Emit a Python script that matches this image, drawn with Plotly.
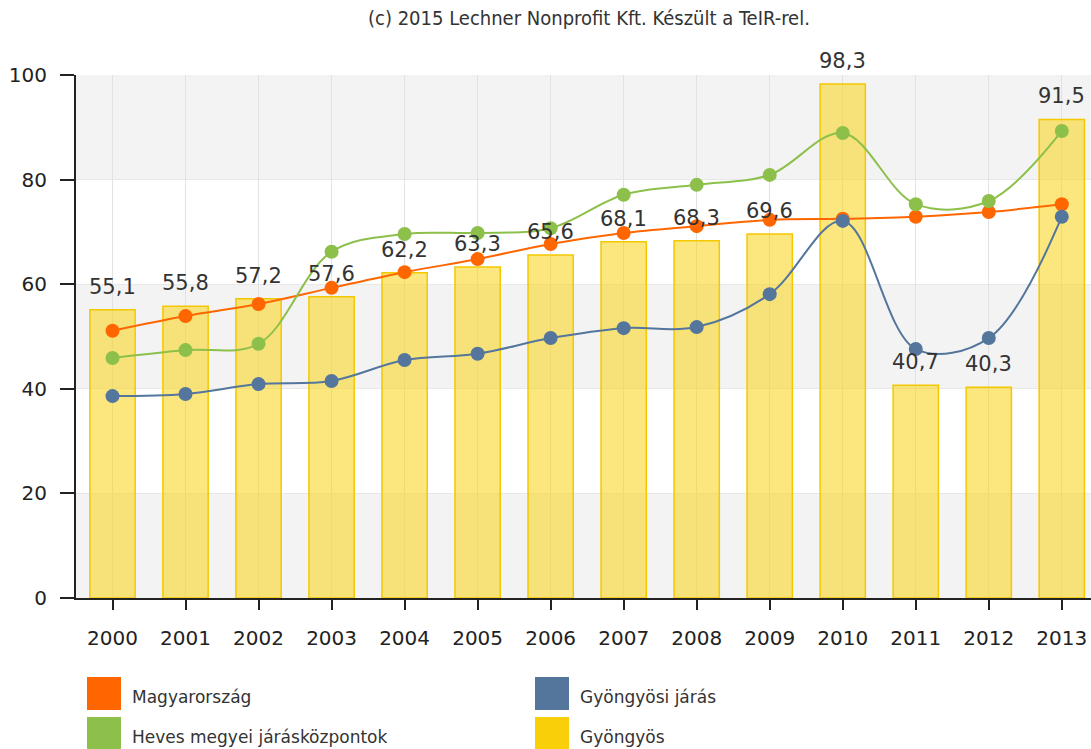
import plotly.graph_objects as go

years = ["2000", "2001", "2002", "2003", "2004", "2005", "2006",
         "2007", "2008", "2009", "2010", "2011", "2012", "2013"]
gyongyos = [55.1, 55.8, 57.2, 57.6, 62.2, 63.3, 65.6, 68.1, 68.3, 69.6, 98.3, 40.7, 40.3, 91.5]
magyarorszag = [51.1, 53.9, 56.2, 59.3, 62.3, 64.8, 67.7, 69.8, 71.1, 72.3, 72.5, 72.9, 73.8, 75.3]
heves = [45.9, 47.4, 48.6, 66.2, 69.6, 69.8, 70.7, 77.1, 79.0, 80.9, 88.9, 75.3, 75.9, 89.3]
gyongyosi_jaras = [38.6, 39.0, 40.9, 41.5, 45.5, 46.7, 49.7, 51.6, 51.8, 58.1, 72.1, 47.6, 49.7, 72.9]
y_ticks = [0, 20, 40, 60, 80, 100]

C_ORANGE = "#ff6600"
C_GREEN = "#8cc04b"
C_BLUE = "#54769c"
C_YELLOW = "#f9cf0a"
FONT = "DejaVu Sans"

# plot area in pixels (used to place paper-referenced decorations)
L, R, T, B = 76, 0, 75, 151
W, H = 1091, 749
PW, PH = W - L - R, H - T - B


def px_x(x):
    return (x - L) / PW


def px_y(y):
    return (H - B - y) / PH


fig = go.Figure()

fig.add_trace(go.Bar(
    x=years, y=gyongyos, name="Gyöngyös", width=0.62,
    marker=dict(color="rgba(250,212,20,0.55)",
                line=dict(color="#f3c800", width=1.5)),
))

for name, vals, col in [("Magyarország", magyarorszag, C_ORANGE),
                        ("Heves megyei járásközpontok", heves, C_GREEN),
                        ("Gyöngyösi járás", gyongyosi_jaras, C_BLUE)]:
    fig.add_trace(go.Scatter(
        x=years, y=vals, name=name, mode="lines+markers",
        line=dict(color=col, width=2, shape="spline", smoothing=1),
        marker=dict(color=col, size=14),
    ))

# value labels above the bars (category index as x)
for i, v in enumerate(gyongyos):
    fig.add_annotation(
        x=i, y=v, xref="x", yref="y", text=f"{v:.1f}".replace(".", ","),
        showarrow=False, yanchor="middle", yshift=23,
        font=dict(family=FONT, size=21, color="#333333"),
    )

# alternating horizontal bands
for lo, hi in [(0, 20), (40, 60), (80, 100)]:
    fig.add_shape(type="rect", xref="paper", yref="y", x0=0, x1=1, y0=lo, y1=hi,
                  fillcolor="#f3f3f3", line=dict(width=0), layer="below")

# legend drawn as coloured squares with labels
legend_items = [
    ("Magyarország", C_ORANGE, 87, 677),
    ("Gyöngyösi járás", C_BLUE, 535, 677),
    ("Heves megyei járásközpontok", C_GREEN, 87, 717),
    ("Gyöngyös", C_YELLOW, 535, 717),
]
for label, col, lx, ly in legend_items:
    fig.add_shape(type="rect", xref="paper", yref="paper",
                  x0=px_x(lx), x1=px_x(lx + 34), y0=px_y(ly), y1=px_y(ly + 33),
                  fillcolor=col, line=dict(width=0))
    fig.add_annotation(xref="paper", yref="paper", x=px_x(lx + 43), y=px_y(ly + 20),
                       text=label, showarrow=False, xanchor="left", yanchor="middle",
                       font=dict(family=FONT, size=17, color="#333333"))

fig.add_annotation(xref="paper", yref="paper", x=px_x(589), y=px_y(18),
                   text="(c) 2015 Lechner Nonprofit Kft. Készült a TeIR-rel.",
                   showarrow=False, xanchor="center", yanchor="middle",
                   font=dict(family="DejaVu Sans Condensed", size=20, color="#333333"))

fig.update_layout(
    width=W, height=H,
    margin=dict(l=L, r=R, t=T, b=B),
    paper_bgcolor="white", plot_bgcolor="white",
    showlegend=False,
    font=dict(family=FONT, color="#333333"),
    xaxis=dict(
        type="category", range=[-0.5, 13.4],
        showgrid=True, gridcolor="#e2e2e2", gridwidth=1,
        showline=True, linecolor="#222222", linewidth=2,
        ticks="outside", ticklen=10, tickcolor="#222222", tickwidth=1.5,
        ticklabelstandoff=11,
        tickfont=dict(family=FONT, size=20, color="#222222"),
    ),
    yaxis=dict(
        range=[0, 100], tickvals=y_ticks,
        showgrid=True, gridcolor="#e8e8e8", gridwidth=1, zeroline=False,
        showline=True, linecolor="#222222", linewidth=2,
        ticks="outside", ticklen=14, tickcolor="#222222", tickwidth=1.5,
        ticklabelstandoff=9,
        tickfont=dict(family=FONT, size=20, color="#222222"),
    ),
)

fig.write_html("out.html")
